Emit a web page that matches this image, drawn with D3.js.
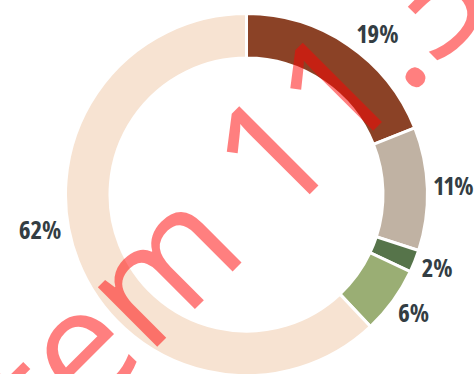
<!DOCTYPE html>
<html>
<head>
<meta charset="utf-8">
<script src="https://cdn.jsdelivr.net/npm/d3@7"></script>
<style>
  html, body { margin: 0; padding: 0; background: #fff; }
  svg { display: block; }
  .pct { font-variant-numeric: proportional-nums; font-stretch: 75%; }
</style>
</head>
<body>
<svg id="chart" width="474" height="374"></svg>
<script>
// Share of each segment, clockwise from 12 o'clock
const segments = ["Segment A", "Segment B", "Segment C", "Segment D", "Segment E"];
const shares = [19, 11, 2, 6, 62];
const sliceColors = ["#8B4226", "#C0B2A3", "#56744A", "#9AAE74", "#F7E3D2"];
const watermarkText = "Item 11.3";

const width = 474, height = 374;
const cx = 246.5, cy = 194.6;
const outerR = 181, innerR = 136.5;
// gap between the ring's centre and the nearest edge of each label box
const labelGap = 187;
// angular offset (degrees) that spreads the labels away from their slice midpoints
const labelShiftDeg = [5.1, -0.5, -0.5, -0.6, 11.9];

const svg = d3.select("#chart");
const g = svg.append("g").attr("transform", `translate(${cx},${cy})`);

const pie = d3.pie().value(d => d).sort(null);
const arcs = pie(shares);
const arc = d3.arc().innerRadius(innerR).outerRadius(outerR);

g.selectAll("path.slice")
  .data(arcs)
  .join("path")
  .attr("class", "slice")
  .attr("d", arc)
  .attr("fill", (d, i) => sliceColors[i])
  .attr("stroke", "#fff")
  .attr("stroke-width", 3);

const labelSize = 25;
g.selectAll("text.pct")
  .data(arcs)
  .join("text")
  .attr("class", "pct")
  .attr("text-anchor", "middle")
  .attr("dy", "0.36em")
  .attr("font-family", "'Open Sans', sans-serif")
  .attr("font-weight", 700)
  .attr("font-size", labelSize)
  .attr("fill", "#333D43")
  .text(d => d.data + "%")
  .each(function (d, i) {
    const a = (d.startAngle + d.endAngle) / 2 + labelShiftDeg[i] * Math.PI / 180;
    const w = this.getComputedTextLength();
    const h = 0.72 * labelSize;
    const r = labelGap + (w / 2) * Math.abs(Math.sin(a)) + (h / 2) * Math.abs(Math.cos(a));
    d3.select(this)
      .attr("x", r * Math.sin(a))
      .attr("y", -r * Math.cos(a));
  });

// Watermark across the chart, placed so that its decimal point sits at markPoint
const wmSize = 157;
const markPoint = [416, 78];
const wm = svg.append("text")
  .attr("class", "watermark")
  .attr("x", 0)
  .attr("y", 0)
  .attr("font-family", "'Open Sans', sans-serif")
  .attr("font-size", wmSize)
  .attr("fill", "#ff0000")
  .attr("fill-opacity", 0.5)
  .text(watermarkText);

const dotIndex = watermarkText.indexOf(".");
const ext = wm.node().getExtentOfChar(dotIndex);
const gx = ext.x + ext.width / 2;
const gy = -0.045 * wmSize;
const c = Math.SQRT1_2;
// rotate(-45): (x, y) -> ((x + y)·c, (y - x)·c)
const tx = markPoint[0] - (gx + gy) * c;
const ty = markPoint[1] - (gy - gx) * c;
wm.attr("transform", `translate(${tx},${ty}) rotate(-45)`);
</script>
</body>
</html>
